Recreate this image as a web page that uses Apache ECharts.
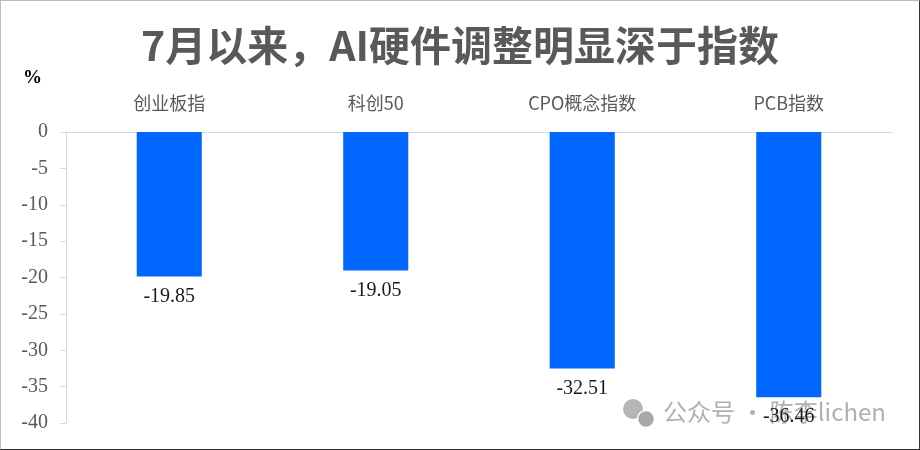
<!DOCTYPE html>
<html>
<head>
<meta charset="utf-8">
<script src="https://cdn.jsdelivr.net/npm/echarts@6/dist/echarts.min.js"></script>
<style>
html,body{margin:0;padding:0;background:#fff;}
#c{width:918px;height:448px;border:1px solid #333;border-top-color:#bbb;border-left-color:#bbb;}
</style>
</head>
<body>
<div id="c"></div>
<script>
const categories = ['创业板指', '科创50', 'CPO概念指数', 'PCB指数'];
const values = [-19.85, -19.05, -32.51, -36.46];
const yMin = -40, yMax = 0, yStep = 5;
const titleText = '7月以来，AI硬件调整明显深于指数';
const unitText = '%';
const watermarkText = '公众号 · 陈李lichen';

const chart = echarts.init(document.getElementById('c'), null, {renderer: 'canvas'});
chart.setOption({
  animation: false,
  backgroundColor: '#fff',
  title: {
    text: titleText,
    left: 'center',
    top: 19,
    textStyle: {fontFamily: 'Noto Sans CJK SC', fontWeight: 'bold', fontSize: 41, color: '#595959'}
  },
  graphic: [
    {type: 'text', left: 22, top: 68, style: {text: unitText, font: 'bold 19px "Liberation Serif"', fill: '#000'}},
    {type: 'circle', shape: {cx: 632, cy: 408, r: 10}, style: {fill: '#b5b5b5'}},
    {type: 'circle', shape: {cx: 645, cy: 418, r: 8.5}, style: {fill: '#a8a8a8', stroke: '#fff', lineWidth: 1.5}},
    {type: 'text', left: 662, top: 399, style: {text: watermarkText, font: '24px "Noto Sans CJK SC"', fill: 'rgba(150,150,150,0.75)'}}
  ],
  grid: {left: 65, right: 27, top: 131, bottom: 26, containLabel: false},
  xAxis: {
    type: 'category',
    position: 'top',
    data: categories,
    axisLine: {show: true, lineStyle: {color: '#d9d9d9', width: 1}},
    axisTick: {show: false},
    axisLabel: {margin: 20, fontFamily: 'Noto Sans CJK SC', fontSize: 18, color: '#595959'}
  },
  yAxis: {
    type: 'value',
    min: yMin, max: yMax, interval: yStep,
    axisLine: {show: true, lineStyle: {color: '#d9d9d9'}},
    axisTick: {show: true, length: 6, lineStyle: {color: '#d9d9d9'}},
    splitLine: {show: false},
    axisLabel: {margin: 18, fontFamily: 'Liberation Serif', fontSize: 20, color: '#595959'}
  },
  series: [{
    type: 'bar',
    data: values,
    barWidth: '31.5%',
    itemStyle: {color: '#0066FF'},
    label: {
      show: true,
      position: 'bottom',
      distance: 10,
      fontFamily: 'Liberation Serif',
      fontSize: 20,
      color: '#1a1a1a',
      formatter: p => p.value.toFixed(2)
    }
  }]
});
</script>
</body>
</html>
